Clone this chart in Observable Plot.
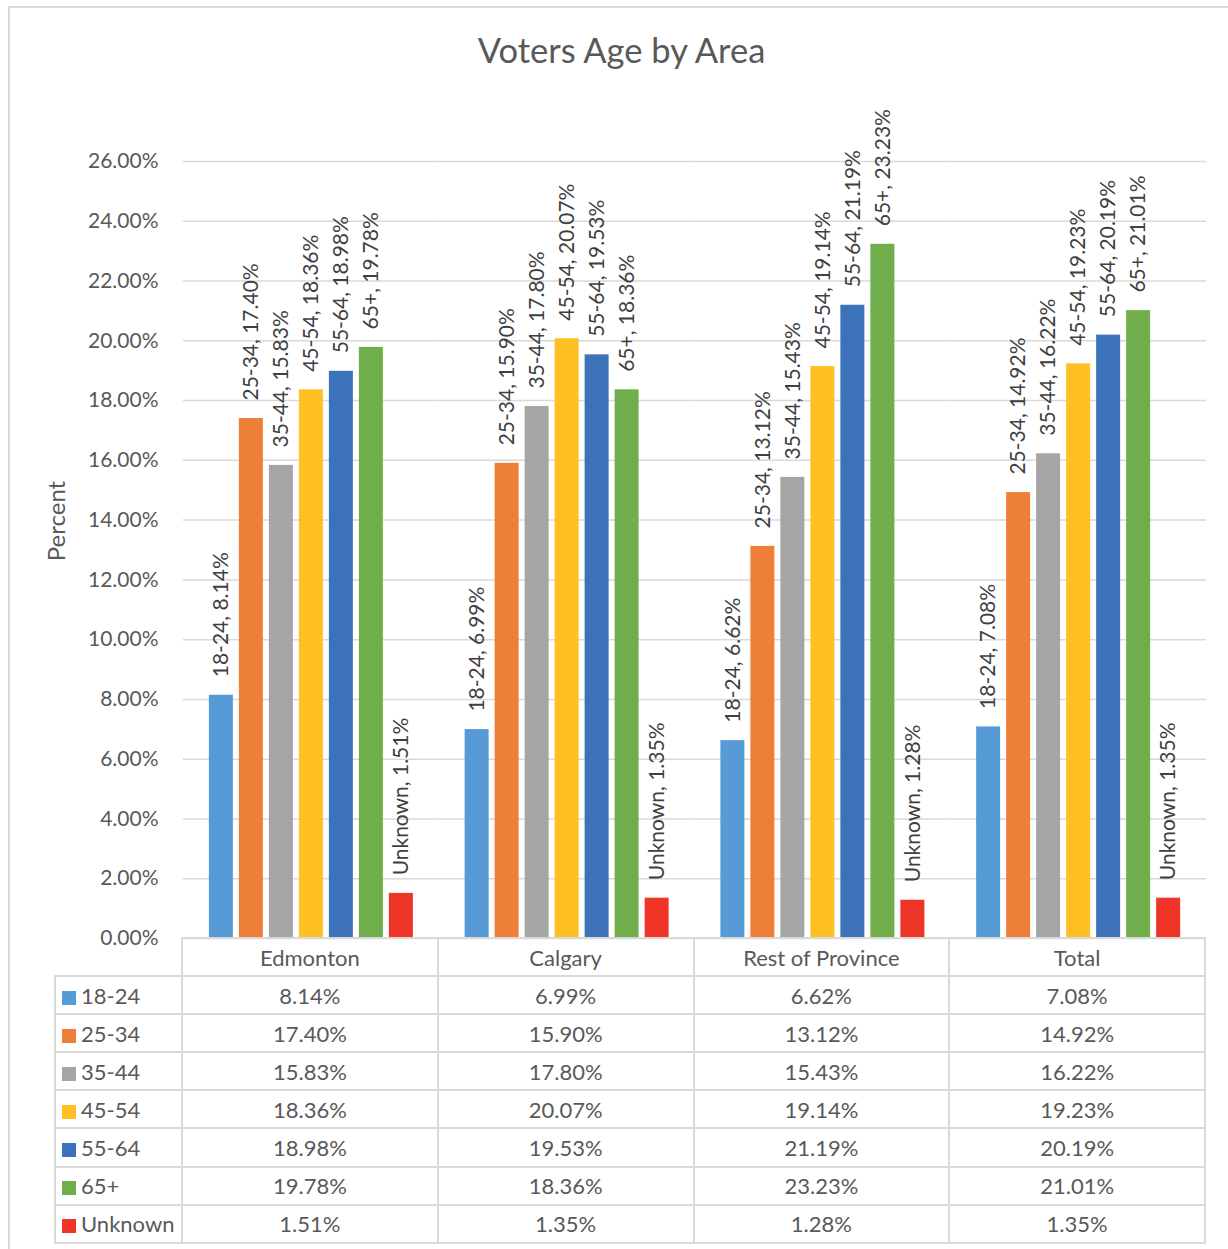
<!DOCTYPE html>
<html>
<head>
<meta charset="utf-8">
<script src="https://cdn.jsdelivr.net/npm/d3@7"></script>
<script src="https://cdn.jsdelivr.net/npm/@observablehq/plot@0.6"></script>
<style>
  html, body { margin: 0; padding: 0; background: #fff; }
  body { width: 1228px; height: 1249px; overflow: hidden; position: relative; font-family: Lato, "Liberation Sans", sans-serif; }
  #frame { position: absolute; left: 8px; top: 6px; width: 1400px; height: 1400px; border-top: 2px solid #d9d9d9; border-left: 2px solid #d9d9d9; }
  #title { position: absolute; left: 0; width: 1243px; top: 30px; text-align: center; font-size: 34.5px; color: #595959; line-height: 40px; }
  #chart { position: absolute; left: 0; top: 0; }
  #tbl { position: absolute; left: 54px; top: 937px; border-collapse: collapse; table-layout: fixed; font-size: 22px; color: #595959; }
  #tbl td { border: 2px solid #d9d9d9; height: 36.1px; padding: 0; text-align: center; white-space: nowrap; }
  #tbl td.lab { text-align: left; padding-left: 6px; }
  #tbl td.blank { border-top-style: hidden; border-left-style: hidden; }
  .key { display: inline-block; width: 14px; height: 14px; margin-right: 5px; vertical-align: -1px; }
</style>
</head>
<body>
<div id="frame"></div>
<div id="title">Voters Age by Area</div>
<div id="chart"></div>
<table id="tbl"></table>
<script>
const areas = ["Edmonton", "Calgary", "Rest of Province", "Total"];
const ages = ["18-24", "25-34", "35-44", "45-54", "55-64", "65+", "Unknown"];
const colors = ["#569BD5", "#EE7F37", "#A5A5A5", "#FFC024", "#3C72BA", "#70AD4B", "#EF3428"];
const edmonton = [8.14, 17.40, 15.83, 18.36, 18.98, 19.78, 1.51];
const calgary = [6.99, 15.90, 17.80, 20.07, 19.53, 18.36, 1.35];
const restOfProvince = [6.62, 13.12, 15.43, 19.14, 21.19, 23.23, 1.28];
const total = [7.08, 14.92, 16.22, 19.23, 20.19, 21.01, 1.35];
const yTicks = [0, 2, 4, 6, 8, 10, 12, 14, 16, 18, 20, 22, 24, 26];

const series = [edmonton, calgary, restOfProvince, total];
const data = [];
areas.forEach((a, i) => ages.forEach((g, j) => data.push({area: a, age: g, value: series[i][j]})));

const fmt = v => v.toFixed(2) + "%";

const chart = Plot.plot({
  width: 1228,
  height: 960,
  marginTop: 161,
  marginLeft: 183,
  marginRight: 22,
  marginBottom: 22,
  style: {fontFamily: "Lato, 'Liberation Sans', sans-serif", fontSize: "21px", color: "#595959", background: "transparent"},
  fx: {domain: areas, axis: null, padding: 0, round: false},
  x: {domain: ages, axis: null, paddingInner: 0.2, paddingOuter: 0.8625, round: false},
  y: {domain: [0, 26], ticks: yTicks, tickFormat: fmt, tickSize: 0, tickPadding: 25, label: null},
  color: {domain: ages, range: colors},
  marks: [
    Plot.ruleY(yTicks, {stroke: "#d9d9d9", strokeWidth: 1.5}),
    Plot.barY(data, {fx: "area", x: "age", y: "value", fill: "age"}),
    Plot.text(data, {fx: "area", x: "age", y: "value", text: d => `${d.age}, ${fmt(d.value)}`, rotate: -90, textAnchor: "start", dy: -18, fontSize: 21, fill: "#404040"}),
    Plot.text(["Percent"], {fx: () => "Edmonton", frameAnchor: "left", textAnchor: "middle", text: d => d, rotate: -90, dx: -126, dy: -29, fontSize: 24, fill: "#595959"})
  ]
});
document.getElementById("chart").appendChild(chart);

// data table beneath the plot
const tbl = document.getElementById("tbl");
const colgroup = document.createElement("colgroup");
[127, 255.75, 255.75, 255.75, 255.75].forEach(w => { const c = document.createElement("col"); c.style.width = w + "px"; colgroup.appendChild(c); });
tbl.appendChild(colgroup);
const head = document.createElement("tr");
const blank = document.createElement("td"); blank.className = "blank"; head.appendChild(blank);
areas.forEach(a => { const td = document.createElement("td"); td.textContent = a; head.appendChild(td); });
tbl.appendChild(head);
ages.forEach((g, j) => {
  const tr = document.createElement("tr");
  const lab = document.createElement("td"); lab.className = "lab";
  const key = document.createElement("span"); key.className = "key"; key.style.background = colors[j];
  lab.appendChild(key); lab.appendChild(document.createTextNode(g));
  tr.appendChild(lab);
  series.forEach(s => { const td = document.createElement("td"); td.textContent = fmt(s[j]); tr.appendChild(td); });
  tbl.appendChild(tr);
});
</script>
</body>
</html>
